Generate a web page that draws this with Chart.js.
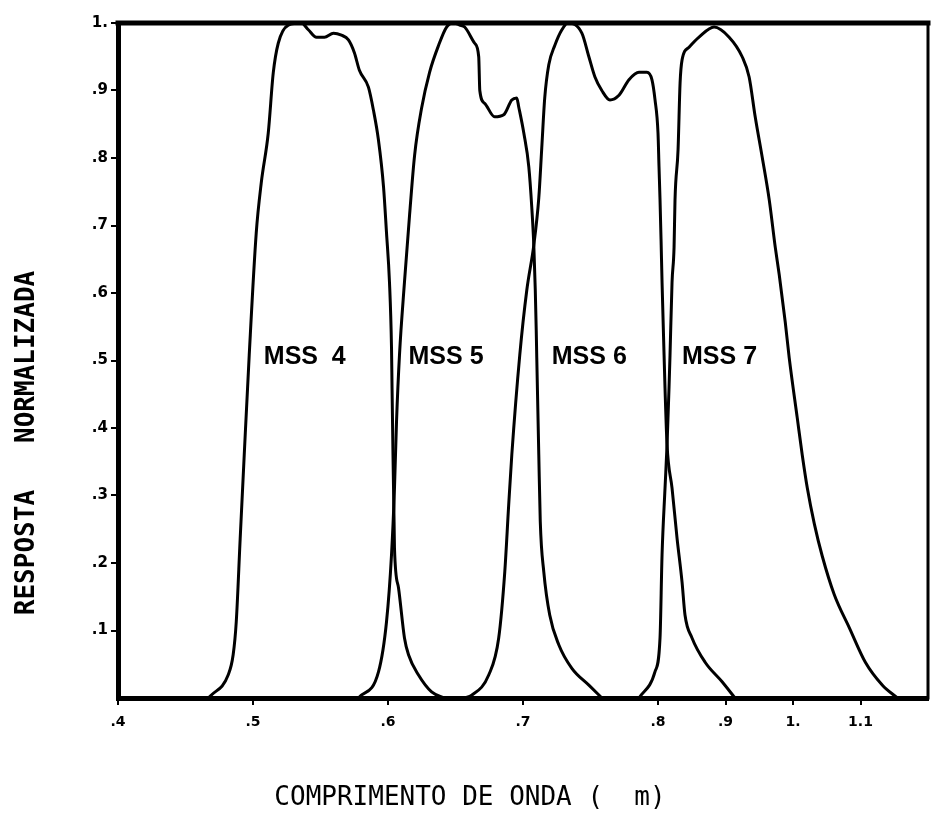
<!DOCTYPE html>
<html>
<head>
<meta charset="utf-8">
<script src="https://cdn.jsdelivr.net/npm/chart.js@4"></script>
<style>
  html, body { margin: 0; padding: 0; background: #fff; }
  canvas { display: block; }
</style>
</head>
<body>
<canvas id="respChart" width="934" height="821"></canvas>
<script>
// wavelength (um) and normalized response
const mss4Wl = [0.4668, 0.469, 0.4816, 0.4853, 0.4876, 0.4905, 0.4935, 0.4972, 0.5024, 0.5061, 0.5113, 0.515, 0.5187, 0.5262, 0.5358, 0.541, 0.547, 0.5529, 0.5596, 0.5655, 0.5707, 0.5751, 0.5788, 0.5855, 0.5892, 0.5929, 0.5967, 0.5989, 0.6011, 0.6026, 0.603, 0.6037, 0.6045, 0.6048, 0.6078, 0.6122, 0.6152, 0.6226, 0.6323, 0.6419];
const mss4Resp = [0, 0.004, 0.034, 0.064, 0.113, 0.236, 0.36, 0.508, 0.689, 0.763, 0.837, 0.926, 0.97, 0.997, 1.0, 0.99, 0.979, 0.979, 0.985, 0.982, 0.975, 0.956, 0.93, 0.905, 0.871, 0.827, 0.757, 0.689, 0.616, 0.519, 0.459, 0.36, 0.261, 0.222, 0.163, 0.089, 0.064, 0.034, 0.009, 0];

const mss5Wl = [0.5781, 0.593, 0.5989, 0.6026, 0.6048, 0.6063, 0.6085, 0.6122, 0.616, 0.6197, 0.6249, 0.6308, 0.6375, 0.6434, 0.6486, 0.653, 0.6568, 0.6642, 0.6672, 0.668, 0.6716, 0.679, 0.6857, 0.6917, 0.6954, 0.6968, 0.7006, 0.7043, 0.7065, 0.708, 0.7091, 0.7098, 0.7102, 0.7117, 0.7128, 0.7154, 0.7198, 0.7265, 0.7362, 0.7488, 0.7585];
const mss5Resp = [0, 0.039, 0.113, 0.212, 0.311, 0.409, 0.508, 0.616, 0.716, 0.804, 0.874, 0.927, 0.967, 0.994, 1.0, 0.997, 0.994, 0.97, 0.95, 0.90, 0.881, 0.861, 0.864, 0.886, 0.889, 0.876, 0.837, 0.787, 0.727, 0.671, 0.604, 0.545, 0.504, 0.36, 0.261, 0.187, 0.123, 0.079, 0.044, 0.019, 0];

const mss6Wl = [0.6568, 0.662, 0.6746, 0.682, 0.6865, 0.6894, 0.6917, 0.6976, 0.7028, 0.708, 0.7117, 0.7139, 0.7161, 0.7191, 0.7236, 0.7288, 0.7332, 0.7436, 0.7488, 0.7533, 0.7584, 0.7644, 0.7711, 0.7785, 0.7859, 0.7918, 0.7955, 0.7978, 0.8, 0.8015, 0.803, 0.8045, 0.806, 0.809, 0.8104, 0.8134, 0.8208, 0.8282, 0.8356, 0.84, 0.8504, 0.8698, 0.895, 0.914];
const mss6Resp = [0, 0.004, 0.034, 0.089, 0.187, 0.286, 0.36, 0.508, 0.604, 0.671, 0.741, 0.815, 0.889, 0.938, 0.967, 0.99, 1.0, 0.985, 0.95, 0.92, 0.90, 0.886, 0.893, 0.916, 0.927, 0.927, 0.916, 0.886, 0.837, 0.787, 0.738, 0.68, 0.616, 0.508, 0.459, 0.375, 0.311, 0.237, 0.172, 0.123, 0.089, 0.053, 0.024, 0];

const mss7Wl = [0.7859, 0.7978, 0.803, 0.806, 0.8104, 0.8134, 0.8163, 0.8178, 0.8208, 0.8238, 0.8252, 0.8297, 0.8327, 0.8356, 0.846, 0.8608, 0.8831, 0.9054, 0.9247, 0.935, 0.944, 0.9544, 0.9648, 0.9737, 0.9796, 0.9885, 0.9944, 1.0063, 1.0137, 1.0212, 1.0316, 1.0434, 1.0612, 1.0835, 1.1072, 1.1325, 1.1547];
const mss7Resp = [0, 0.039, 0.089, 0.212, 0.311, 0.375, 0.459, 0.508, 0.616, 0.668, 0.738, 0.812, 0.911, 0.945, 0.964, 0.979, 0.994, 0.979, 0.95, 0.92, 0.861, 0.801, 0.738, 0.668, 0.627, 0.557, 0.504, 0.415, 0.36, 0.311, 0.258, 0.21, 0.153, 0.104, 0.053, 0.019, 0];

const bandNames = ['MSS  4', 'MSS 5', 'MSS 6', 'MSS 7'];
// where each band name sits (wavelength, response)
const bandLabelWl = [0.508, 0.6152, 0.7213, 0.8356];
const bandLabelResp = [0.505, 0.505, 0.505, 0.505];

const xTickWl = [0.4, 0.5, 0.6, 0.7, 0.8, 0.9, 1.0, 1.1];
const xTickLabels = ['.4', '.5', '.6', '.7', '.8', '.9', '1.', '1.1'];
const yTickVals = [0.1, 0.2, 0.3, 0.4, 0.5, 0.6, 0.7, 0.8, 0.9, 1.0];
const yTickLabels = ['.1', '.2', '.3', '.4', '.5', '.6', '.7', '.8', '.9', '1.'];

// the original axis is compressed by half above 0.8 um
function warp(wl) {
  return wl <= 0.8 ? wl : 0.8 + (wl - 0.8) / 2;
}

function toPoints(wl, resp) {
  return wl.map((w, i) => ({ x: warp(w), y: resp[i] }));
}

const bands = [
  [mss4Wl, mss4Resp],
  [mss5Wl, mss5Resp],
  [mss6Wl, mss6Resp],
  [mss7Wl, mss7Resp]
];

const framePlugin = {
  id: 'frame',
  afterDatasetsDraw(chart) {
    const { ctx, chartArea: a } = chart;
    ctx.save();
    ctx.strokeStyle = '#000';
    ctx.lineCap = 'square';
    ctx.lineWidth = 5;
    ctx.beginPath();
    ctx.moveTo(a.left, a.top);
    ctx.lineTo(a.right, a.top);
    ctx.stroke();
    ctx.lineWidth = 3;
    ctx.beginPath();
    ctx.moveTo(a.right, a.top);
    ctx.lineTo(a.right, a.bottom);
    ctx.stroke();

    // band names
    const xs = chart.scales.x, ys = chart.scales.y;
    ctx.fillStyle = '#000';
    ctx.font = 'bold 25px "Liberation Sans", Arial, sans-serif';
    ctx.textAlign = 'left';
    ctx.textBaseline = 'middle';
    bandNames.forEach((name, i) => {
      ctx.fillText(name, xs.getPixelForValue(warp(bandLabelWl[i])), ys.getPixelForValue(bandLabelResp[i]));
    });

    // axis titles
    ctx.textAlign = 'center';
    ctx.font = '26px "DejaVu Sans Mono", monospace';
    ctx.fillText('COMPRIMENTO DE ONDA (  m)', 470, 798);
    ctx.translate(27, 443);
    ctx.rotate(-Math.PI / 2);
    ctx.font = 'bold 26px "DejaVu Sans Mono", monospace';
    ctx.fillText('RESPOSTA   NORMALIZADA', 0, 0);
    ctx.restore();
  }
};

const ctx = document.getElementById('respChart').getContext('2d');

let respChart = new Chart(ctx, {
  type: 'line',
  data: {
    datasets: bands.map(([wl, resp], i) => ({
      label: bandNames[i],
      data: toPoints(wl, resp),
      borderColor: '#000',
      borderWidth: 3,
      pointRadius: 0,
      fill: false,
      cubicInterpolationMode: 'monotone'
    }))
  },
  options: {
    responsive: false,
    animation: false,
    devicePixelRatio: 1,
    layout: { padding: { top: 23, right: 6, left: 0, bottom: 0 } },
    plugins: {
      legend: { display: false },
      tooltip: { enabled: false }
    },
    scales: {
      x: {
        type: 'linear',
        min: 0.4,
        max: 1.0,
        afterFit: s => { s.height = 123; },
        afterBuildTicks: s => { s.ticks = xTickWl.map(w => ({ value: warp(w) })); },
        border: { display: true, color: '#000', width: 5 },
        grid: { drawOnChartArea: false, drawTicks: true, tickLength: 7, color: '#000', lineWidth: 2 },
        ticks: {
          autoSkip: false,
          maxRotation: 0,
          padding: 9,
          color: '#000',
          font: { family: '"DejaVu Sans", sans-serif', size: 14, weight: 'bold' },
          callback: (v, i) => xTickLabels[i]
        }
      },
      y: {
        type: 'linear',
        min: 0,
        max: 1,
        afterFit: s => { s.width = 118; },
        afterBuildTicks: s => { s.ticks = yTickVals.map(v => ({ value: v })); },
        border: { display: true, color: '#000', width: 5 },
        grid: { drawOnChartArea: false, drawTicks: true, tickLength: 7, color: '#000', lineWidth: 2 },
        ticks: {
          padding: 3,
          color: '#000',
          font: { family: '"DejaVu Sans", sans-serif', size: 15, weight: 'bold' },
          callback: (v, i) => yTickLabels[i]
        }
      }
    }
  },
  plugins: [framePlugin]
});
</script>
</body>
</html>
